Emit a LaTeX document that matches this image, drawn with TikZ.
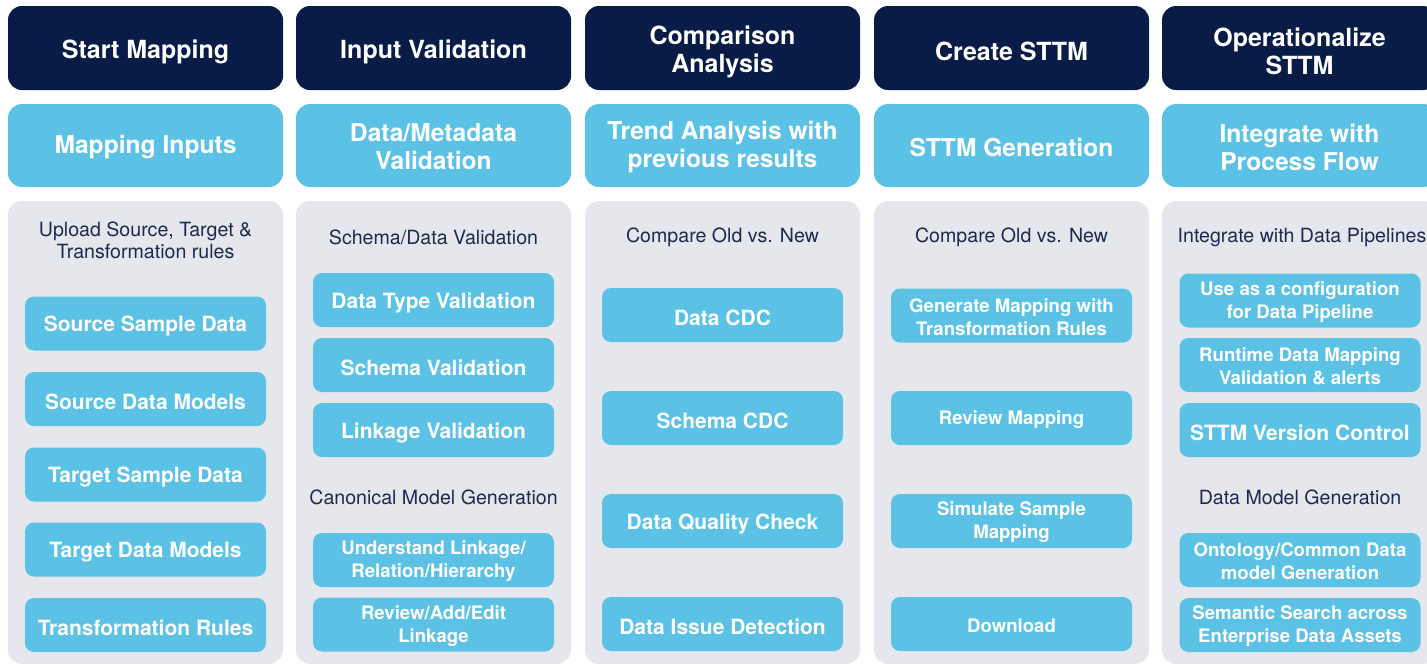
\documentclass[tikz,border=0pt]{standalone}
\usepackage{fontspec}
\setmainfont{TeX Gyre Heros}
\definecolor{navy}{HTML}{081C47}
\definecolor{lblue}{HTML}{5BC2E6}
\definecolor{pgrey}{HTML}{E6E7EC}
\definecolor{tnavy}{HTML}{1C2A50}
\newcommand{\boxnode}[5]{%
  \node[#1] (#2) at (#3,#4) {};
  \node[#1txt] (#2t) at (#2.center) {#5};}
\begin{document}
\begin{tikzpicture}[x=1pt,y=-1pt,
  hdr/.style={fill=navy, rounded corners=14pt, minimum width=275pt, minimum height=84pt, inner sep=0pt},
  hdrtxt/.style={inner sep=0pt, text=white, font=\fontsize{25}{28}\selectfont\bfseries, align=center, yshift=-3.5pt},
  sub/.style={fill=lblue, rounded corners=14pt, minimum width=275pt, minimum height=83pt, inner sep=0pt},
  subtxt/.style={inner sep=0pt, text=white, font=\fontsize{24.6}{28}\selectfont\bfseries, align=center, yshift=-1.5pt},
  panel/.style={fill=pgrey, rounded corners=14pt, minimum width=275pt, minimum height=463pt, inner sep=0pt},
  item/.style={fill=lblue, rounded corners=9pt, minimum width=241pt, minimum height=54pt, inner sep=0pt},
  itemtxt/.style={inner sep=0pt, text=white, font=\fontsize{21}{25}\selectfont\bfseries, align=center, yshift=-2.5pt},
  itemsm/.style={item},
  itemsmtxt/.style={itemtxt, font=\fontsize{18.6}{23}\selectfont\bfseries, yshift=1pt},
  lbl/.style={text=tnavy, inner sep=0pt, font=\fontsize{19.6}{22.5}\selectfont, align=center}]
\useasboundingbox (0,0) rectangle (1427,665);
\clip (0,0) rectangle (1427,665);
% column 1
\boxnode{hdr}{h1}{145.5}{48}{Start Mapping}
\boxnode{sub}{s1}{145.5}{145.5}{Mapping Inputs}
\node[panel] (p1) at (145.5,432.5) {};
\node[lbl] (l1) at (145.5,240.5) {Upload Source, Target \&\\Transformation rules};
\boxnode{item}{a1}{145.5}{323.5}{Source Sample Data}
\boxnode{item}{a2}{145.5}{399}{Source Data Models}
\boxnode{item}{a3}{145.5}{474.5}{Target Sample Data}
\boxnode{item}{a4}{145.5}{549.5}{Target Data Models}
\boxnode{item}{a5}{145.5}{625}{Transformation Rules}
% column 2
\boxnode{hdr}{h2}{433.5}{48}{Input Validation}
\boxnode{sub}{s2}{433.5}{145.5}{Data/Metadata\\Validation}
\node[panel] (p2) at (433.5,432.5) {};
\node[lbl] (l2) at (433.5,237) {Schema/Data Validation};
\boxnode{item}{b1}{433.5}{300}{Data Type Validation}
\boxnode{item}{b2}{433.5}{365}{Schema Validation}
\boxnode{item}{b3}{433.5}{430}{Linkage Validation}
\node[lbl] (l2b) at (433.5,497) {Canonical Model Generation};
\boxnode{itemsm}{b4}{433.5}{560}{Understand Linkage/\\Relation/Hierarchy}
\boxnode{itemsm}{b5}{433.5}{624.5}{Review/Add/Edit\\Linkage}
% column 3
\boxnode{hdr}{h3}{722.5}{48}{Comparison\\Analysis}
\boxnode{sub}{s3}{722.5}{145.5}{Trend Analysis with\\previous results}
\node[panel] (p3) at (722.5,432.5) {};
\node[lbl] (l3) at (722.5,237) {Compare Old vs. New};
\boxnode{item}{c1}{722.5}{315}{Data CDC}
\boxnode{item}{c2}{722.5}{418}{Schema CDC}
\boxnode{item}{c3}{722.5}{521}{Data Quality Check}
\boxnode{item}{c4}{722.5}{624}{Data Issue Detection}
% column 4
\boxnode{hdr}{h4}{1011.5}{48}{Create STTM}
\boxnode{sub}{s4}{1011.5}{145.5}{STTM Generation}
\node[panel] (p4) at (1011.5,432.5) {};
\node[lbl] (l4) at (1011.5,237) {Compare Old vs. New};
\boxnode{itemsm}{d1}{1011.5}{315.5}{Generate Mapping with\\Transformation Rules}
\boxnode{itemsm}{d2}{1011.5}{418}{\raisebox{-2pt}{Review Mapping}}
\boxnode{itemsm}{d3}{1011.5}{521}{Simulate Sample\\Mapping}
\boxnode{itemsm}{d4}{1011.5}{624}{\raisebox{-2pt}{Download}}
% column 5
\boxnode{hdr}{h5}{1299.5}{48}{Operationalize\\STTM}
\boxnode{sub}{s5}{1299.5}{145.5}{Integrate with\\Process Flow}
\node[panel] (p5) at (1299.5,432.5) {};
\node[lbl] (l5) at (1302,237) {Integrate with Data Pipelines};
\boxnode{itemsm}{e1}{1300}{300.5}{Use as a configuration\\for Data Pipeline}
\boxnode{itemsm}{e2}{1300}{365}{Runtime Data Mapping\\Validation \& alerts}
\boxnode{item}{e3}{1300}{430}{STTM Version Control}
\node[lbl] (l5b) at (1300,497) {Data Model Generation};
\boxnode{itemsm}{e4}{1300}{560}{Ontology/Common Data\\model Generation}
\boxnode{itemsm}{e5}{1300}{625}{Semantic Search across\\Enterprise Data Assets}
\end{tikzpicture}
\end{document}
